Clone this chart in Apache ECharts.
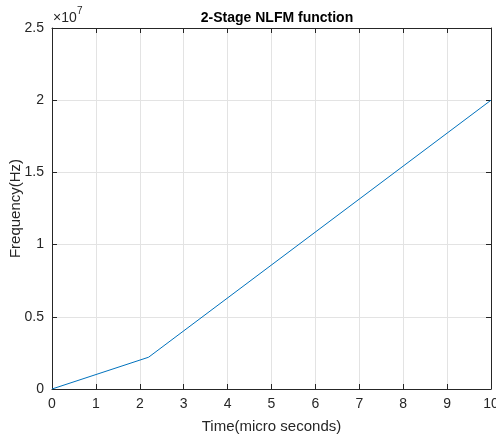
<!DOCTYPE html>
<html><head><meta charset="utf-8">
<script src="https://cdn.jsdelivr.net/npm/echarts@6/dist/echarts.min.js"></script>
<style>html,body{margin:0;padding:0;background:#fff}#c{width:496px;height:436px}</style>
</head><body><div id="c"></div>
<script>
const timeUs = [0, 2.2, 10];
const freqHz = [0, 2.2e6, 2.0e7];
const xTicks = [0,1,2,3,4,5,6,7,8,9,10];
const yTickLabels = ['0','0.5','1','1.5','2','2.5'];

const chart = echarts.init(document.getElementById('c'), null, {renderer:'canvas'});
const F = 'Liberation Sans, Arial, Helvetica, sans-serif';
const axisCol = '#262626';
const data = timeUs.map((t,i)=>[t, freqHz[i]]);
chart.setOption({
  animation:false,
  backgroundColor:'#fff',
  title:{text:'2-Stage NLFM function', left:272, top:6, textAlign:'center',
    textStyle:{fontFamily:F, fontSize:14, fontWeight:'bold', color:'#000'}},
  grid:{left:52, right:5, top:28, bottom:47, containLabel:false, outerBoundsMode:'none'},
  graphic:[
    {type:'text', x:53, y:11, style:{text:'×10', font:'14px Liberation Sans, Arial, sans-serif', fill:axisCol}},
    {type:'text', x:77, y:6, style:{text:'7', font:'10px Liberation Sans, Arial, sans-serif', fill:axisCol}}
  ],
  xAxis:[{type:'value', min:0, max:10, interval:1,
    name:'Time(micro seconds)', nameLocation:'middle', nameGap:30,
    nameTextStyle:{fontFamily:F, fontSize:15, color:axisCol},
    axisLine:{lineStyle:{color:axisCol}}, axisTick:{inside:true, length:5, lineStyle:{color:axisCol}},
    axisLabel:{fontFamily:F, fontSize:14, color:axisCol, margin:8, formatter:v=>xTicks.includes(v)?String(v):''},
    splitLine:{show:true, lineStyle:{color:'#e3e3e3'}}},
   {type:'value', position:'top', min:0, max:10, interval:1,
    axisLine:{show:true, onZero:false, lineStyle:{color:axisCol}}, axisTick:{inside:true, length:5, lineStyle:{color:axisCol}},
    axisLabel:{show:false}, splitLine:{show:false}}],
  yAxis:[{type:'value', min:0, max:2.5e7, interval:5e6,
    name:'Frequency(Hz)', nameLocation:'middle', nameGap:29, nameMoveOverlap:false,
    nameTextStyle:{fontFamily:F, fontSize:15, color:axisCol},
    axisLine:{show:true, lineStyle:{color:axisCol}}, axisTick:{show:true, inside:true, length:5, lineStyle:{color:axisCol}},
    axisLabel:{fontFamily:F, fontSize:14, color:axisCol, margin:8, formatter:v=>yTickLabels[Math.round(v/5e6)]},
    splitLine:{show:true, lineStyle:{color:'#e3e3e3'}}},
   {type:'value', position:'right', min:0, max:2.5e7, interval:5e6,
    axisLine:{show:true, onZero:false, lineStyle:{color:axisCol}}, axisTick:{show:true, inside:true, length:5, lineStyle:{color:axisCol}},
    axisLabel:{show:false}, splitLine:{show:false}}],
  series:[{type:'line', data:data, showSymbol:false, symbol:'none',
    lineStyle:{color:'#0072BD', width:1}, xAxisIndex:0, yAxisIndex:0}]
});
</script></body></html>
